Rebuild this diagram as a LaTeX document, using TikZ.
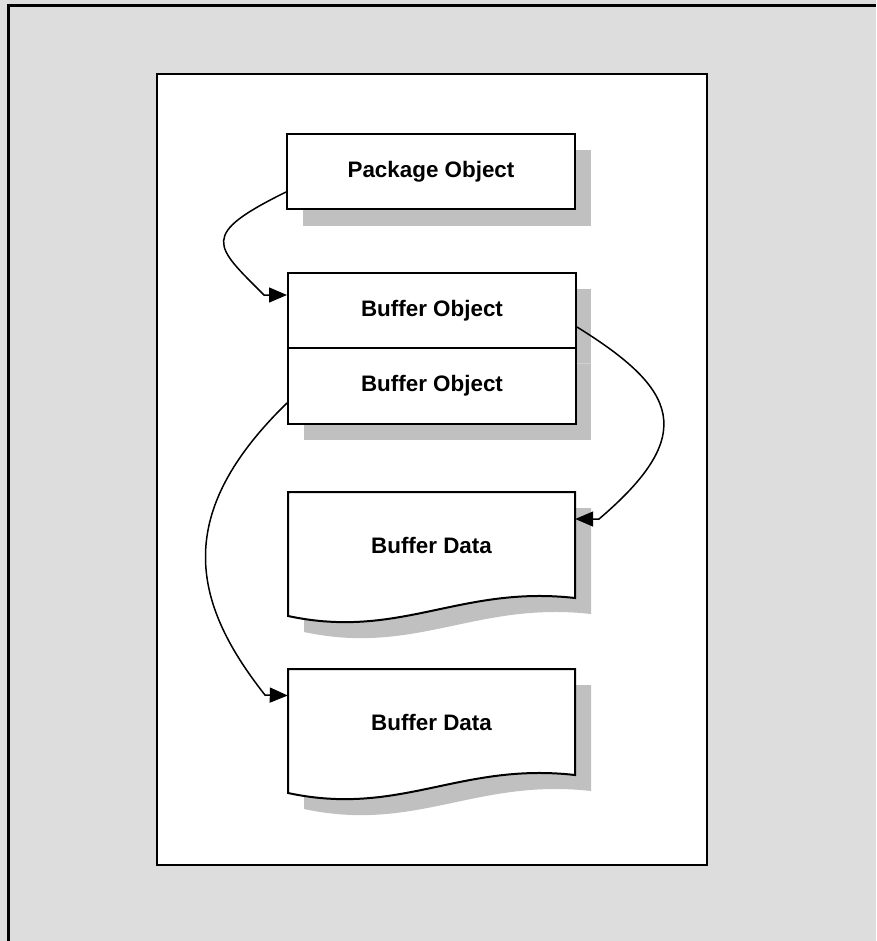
\documentclass[tikz,border=0pt]{standalone}
\usepackage{fontspec}
\setmainfont{Liberation Sans}
\usepackage{xcolor}
\usetikzlibrary{arrows.meta}
\definecolor{pagegray}{HTML}{DDDDDD}
\definecolor{shadowgray}{HTML}{C0C0C0}

\begin{document}
\begin{tikzpicture}[x=1pt, y=-1pt, line join=miter,
      every node/.append style={font=\fontsize{22.4}{27}\selectfont\bfseries},
      link/.style={-{Triangle[length=18pt,width=15pt]}, line width=1.5pt}]
    \tikzstyle{box} = [draw, fill=white, line width=2pt, minimum width=288pt, minimum height=75pt, inner sep=0pt]
    \tikzstyle{shadow} = [fill=shadowgray, draw=none]
    \tikzstyle{doc} = [minimum width=287pt, minimum height=106pt, inner sep=0pt]
    \useasboundingbox (0,0) rectangle (876,941);
    \fill[pagegray] (0,0) rectangle (876,941);
    \draw[line width=3pt] (8,941) -- (8,6) -- (876,6);
    \draw[fill=white, line width=2pt] (157,74) rectangle (707,865);
    % shadows
    \fill[shadow] (303,150) rectangle (591,226);
    \fill[shadow] (304,289) rectangle (591,364);
    \fill[shadow] (304,364) rectangle (591,440);
    \draw[gray!35, line width=0.8pt] (576,363.5) -- (591,363.5);
    \fill[shadow] (304,508) -- (591,508) -- (591,614) .. controls (476,601) and (416,656) .. (304,632) -- cycle;
    \fill[shadow] (304,685) -- (591,685) -- (591,791) .. controls (476,778) and (416,833) .. (304,809) -- cycle;
    % boxes
    \node[box] (pkg) at (431,171.5) {Package Object};
    \node[box] (bobjA) at (432,310.5) {Buffer Object};
    \node[box, minimum height=76pt] (bobjB) at (432,386) {Buffer Object};
    \draw[fill=white, line width=2pt] (288,492) -- (575,492) -- (575,598) .. controls (460,585) and (400,640) .. (288,616) -- cycle;
    \node[doc] (bdataA) at (431.5,545) {Buffer Data};
    \draw[fill=white, line width=2pt] (288,669) -- (575,669) -- (575,775) .. controls (460,762) and (400,817) .. (288,793) -- cycle;
    \node[doc] (bdataB) at (431.5,722) {Buffer Data};
    % links
    \draw[link] ([yshift=-20.5pt]pkg.west) .. controls +(-87,43) and +(-50,-50) .. ++(-22,103) -- ([yshift=15.5pt]bobjA.west);
    \draw[link] ([yshift=-16.5pt]bobjA.east) .. controls +(100,62) and +(100,-85) .. ++(22,192) -- ([yshift=26pt]bdataA.east);
    \draw[link] ([yshift=-17pt]bobjB.west) .. controls +(-113,110) and +(-75,-95) .. ++(-22,292) -- ([yshift=26.5pt]bdataB.west);
\end{tikzpicture}
\end{document}
